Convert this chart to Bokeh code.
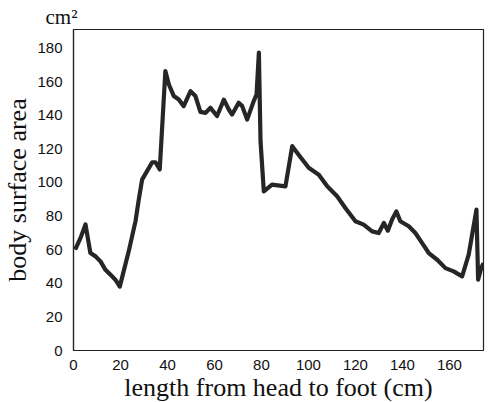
from bokeh.plotting import figure
from bokeh.models import Range1d, FixedTicker
from bokeh.embed import file_html
from bokeh.resources import INLINE

length_cm = [0.7, 3, 5.1, 7.2, 9.4, 11.5, 13.6, 16.5, 17.9, 19.7, 23.5, 26.4, 27.8, 29.2,
             31.3, 33.5, 34.9, 36.7, 39.1, 40.6, 42.7, 44.8, 46.9, 49.8, 51.9, 54.0, 56.2,
             58.3, 61.1, 64.0, 66.1, 67.5, 70.3, 71.8, 73.9, 76.7, 77.9, 78.9, 79.6, 81.0,
             84.5, 90.2, 93.1, 96.3, 100.1, 104.4, 108.0, 112.2, 115.7, 120.0, 123.5, 127.1,
             129.9, 132.1, 133.8, 135.6, 137.4, 139.1, 142.7, 145.5, 148.4, 151.2, 154.8,
             158.3, 161.8, 165.4, 168.2, 171.5, 172.2, 173.5, 174.5]
surface_area = [60, 67, 75, 58, 56, 53, 48, 44, 42, 38, 59, 77, 90, 101.7,
                106.7, 112, 112, 107.7, 166.3, 158.3, 151.4, 149.3, 145.4, 154.3, 151.4, 142, 141.4,
                144.4, 139.5, 149.3, 143.4, 140.4, 147.4, 145.4, 137.4, 148.4, 152.3, 177.2, 124.5, 94.7,
                98.7, 97.7, 121.6, 115.6, 108.7, 104.6, 97.7, 91.8, 84.8, 76.9, 74.9, 70.9,
                69.9, 75.9, 71.3, 77.9, 82.8, 76.9, 73.9, 69.9, 63.9, 58, 54,
                49, 47.1, 44.1, 57, 83.8, 42.1, 49, 52]
x_ticks = [0, 20, 40, 60, 80, 100, 120, 140, 160]
y_ticks = [0, 20, 40, 60, 80, 100, 120, 140, 160, 180]

p = figure(frame_width=410, frame_height=321, output_backend="svg", toolbar_location=None,
           x_range=Range1d(0, 174.5), y_range=Range1d(0, 191),
           min_border_left=60, min_border_right=4, min_border_top=29, min_border_bottom=44,
           title="cm²")
p.title.align = "left"
p.title.offset = -28
p.title.standoff = 2
p.title.text_font = "Liberation Serif"
p.title.text_font_style = "normal"
p.title.text_font_size = "21px"
p.title.text_color = "#111111"
p.title.text_line_height = 1.0

p.grid.visible = False
p.outline_line_color = "#222222"
p.outline_line_width = 1.2

p.line(length_cm, surface_area, line_color="#262626", line_width=4.2, line_join="round")

for ax in (p.xaxis[0], p.yaxis[0]):
    ax.axis_line_color = "#222222"
    ax.axis_line_width = 1.2
    ax.major_tick_line_color = None
    ax.minor_tick_line_color = None
    ax.major_label_text_font = "Liberation Sans"
    ax.major_label_text_font_size = "15px"
    ax.major_label_text_color = "#111111"
    ax.axis_label_text_font = "Liberation Serif"
    ax.axis_label_text_font_style = "normal"
    ax.axis_label_text_font_size = "26px"
    ax.axis_label_text_color = "#111111"

p.xaxis[0].ticker = FixedTicker(ticks=x_ticks)
p.yaxis[0].ticker = FixedTicker(ticks=y_ticks)
p.xaxis[0].axis_label = "length from head to foot (cm)"
p.yaxis[0].axis_label = "body surface area"
p.xaxis[0].major_label_standoff = 3
p.xaxis[0].axis_label_standoff = 0
p.yaxis[0].major_label_standoff = 5
p.yaxis[0].axis_label_standoff = 2

open("out.html", "w").write(file_html(p, INLINE))
